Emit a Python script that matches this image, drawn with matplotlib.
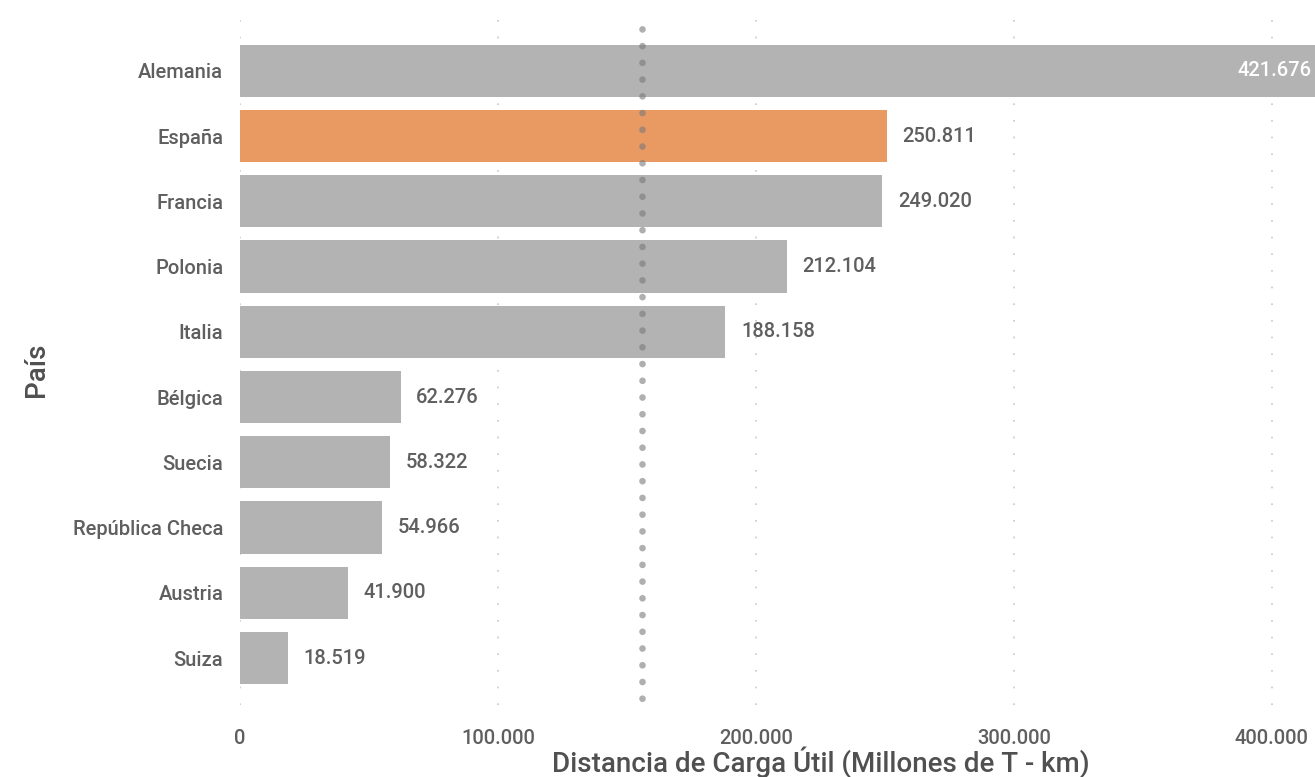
import matplotlib.pyplot as plt
from matplotlib.ticker import FuncFormatter

plt.rcParams['font.family'] = ['Roboto', 'DejaVu Sans']

paises = ['Alemania', 'España', 'Francia', 'Polonia', 'Italia', 'Bélgica',
          'Suecia', 'República Checa', 'Austria', 'Suiza']
valores = [421676, 250811, 249020, 212104, 188158, 62276, 58322, 54966, 41900, 18519]
destacado = 'España'
x_ticks = [0, 100000, 200000, 300000, 400000]

gris = '#b3b3b3'
naranja = '#e99a63'
texto = '#5f5f5f'


def miles(v, pos=None):
    return f'{int(v):,}'.replace(',', '.')


fig = plt.figure(figsize=(13.15, 7.77), dpi=100)
ax = fig.add_axes([0.1825, 0.0927, 0.8175, 0.8816])

colores = [naranja if p == destacado else gris for p in paises]
pos = list(range(len(paises)))
ax.barh(pos, valores, height=0.8, color=colores, zorder=2)

xmax = 416700
ax.set_xlim(0, xmax)
ax.set_ylim(len(paises) - 0.28, -0.78)

# rejilla punteada
for t in x_ticks:
    ax.axvline(t, color='#c8c8c8', lw=1.2, ls=(0, (1, 9)), zorder=1)

# linea de la media
media = sum(valores) / len(valores)
ax.axvline(media, ymax=1.0, color='#7a7a7a', alpha=0.6, lw=4.8,
           ls=(1.5, (0.01, 2.5)), dash_capstyle='round', zorder=3)

# etiquetas de valor
for i, v in enumerate(valores):
    if v > xmax:
        ax.text(xmax * 0.997, i, miles(v), ha='right', va='center',
                color='white', fontsize=14.5, fontweight='medium', zorder=4)
    else:
        ax.text(v + 6000, i, miles(v), ha='left', va='center',
                color=texto, fontsize=14.5, fontweight='medium', zorder=4)

ax.set_yticks(pos)
ax.set_yticklabels(paises, fontweight='medium')
ax.set_xticks(x_ticks)
ax.xaxis.set_major_formatter(FuncFormatter(miles))
for lab in ax.get_xticklabels():
    lab.set_fontweight('medium')
ax.tick_params(axis='both', length=0, labelsize=14.5, labelcolor=texto)
ax.tick_params(axis='y', pad=12)
ax.tick_params(axis='x', pad=17)

for s in ax.spines.values():
    s.set_visible(False)

ax.set_xlabel('Distancia de Carga Útil (Millones de T - km)', fontsize=20,
              color='#505050', fontweight='medium')
ax.xaxis.set_label_coords(0.54, -0.06)
ax.set_ylabel('País', fontsize=20, color='#505050', fontweight='medium')
ax.yaxis.set_label_coords(-0.177, 0.49)

fig.savefig('out.png', dpi=100)
